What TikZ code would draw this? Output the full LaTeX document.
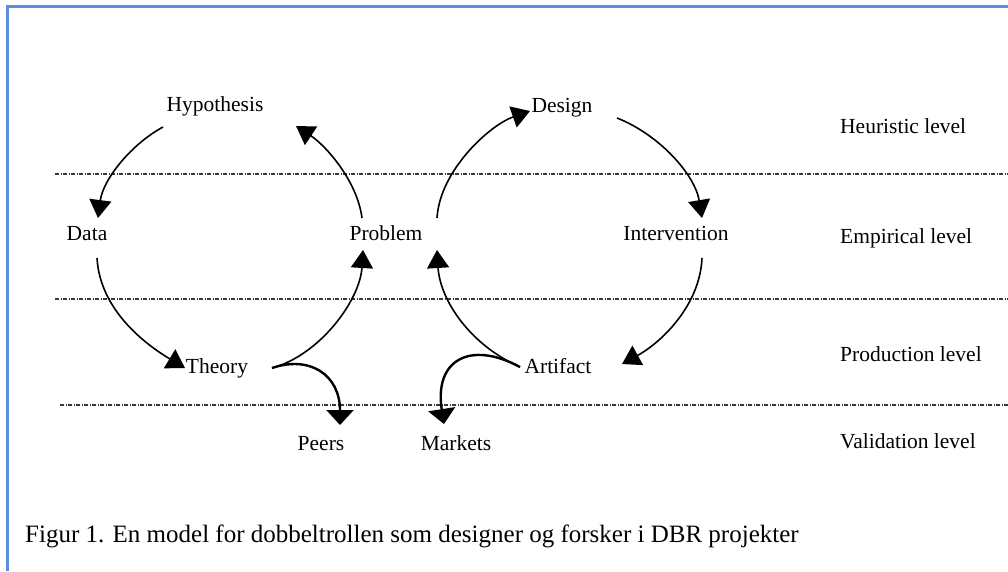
\documentclass[tikz,border=0pt]{standalone}
\usepackage{fontspec}
\setmainfont{Liberation Serif}
\usetikzlibrary{arrows.meta,calc}
\definecolor{framec}{HTML}{5B8ED6}
\begin{document}
\begin{tikzpicture}[x=1pt,y=-1pt,
  lbl/.style={anchor=base,inner sep=0pt,font=\fontsize{21.5}{24}\selectfont},
  lvl/.style={anchor=base west,inner sep=0pt,font=\fontsize{21.5}{24}\selectfont},
  arr/.style={line width=1.6pt,-{Triangle[length=18pt,width=22pt]}},
  outarr/.style={line width=2.4pt,-{Triangle[length=15pt,width=27pt]}},
  lvline/.style={line width=1.1pt,gray!45!black,dash pattern=on 4pt off 1.5pt on 1pt off 1.5pt}]
\useasboundingbox (0,0) rectangle (1008,571);
% frame
\draw[framec,line width=2.2pt] (7.5,571) -- (7.5,6.5) -- (1008,6.5);
% level lines
\draw[lvline] (55,174) -- (1008,174);
\draw[lvline] (55,299) -- (1008,299);
\draw[lvline] (60,405) -- (1008,405);
% nodes
\node[lbl] (hyp) at (215,111) {Hypothesis};
\node[lbl] (design) at (562,112) {Design};
\node[lbl] (data) at (87,240) {Data};
\node[lbl] (problem) at (386,240) {Problem};
\node[lbl] (interv) at (676,240) {Intervention};
\node[lbl] (theory) at (217,373) {Theory};
\node[lbl] (artifact) at (558,373) {Artifact};
\node[lbl] (peers) at (321,450) {Peers};
\node[lbl] (markets) at (456,450) {Markets};
\node[lvl] (heur) at (840,133) {Heuristic level};
\node[lvl] (emp) at (840,243) {Empirical level};
\node[lvl] (prod) at (840,361) {Production level};
\node[lvl] (valid) at (840,448) {Validation level};
% caption
\node[anchor=base west,inner sep=0pt,font=\fontsize{25}{28}\selectfont] (cap) at (25,542)
  {Figur 1. En model for dobbeltrollen som designer og forsker i DBR projekter};
% connectors
\draw[arr] ($(hyp.base)+(-52,16)$) .. controls +(-33,18) and +(5,-38) .. ($(data.base)+(11,-22)$);
\draw[arr] ($(data.base)+(10,18)$) .. controls +(3,52) and +(-40,-24) .. ($(theory.base)+(-32,-5)$);
\draw[arr] ($(theory.base)+(55,-5)$) .. controls +(48,-13) and +(-3,50) .. ($(problem.base)+(-23,10)$);
\draw[arr] ($(problem.base)+(-24,-22)$) .. controls +(-5,-38) and +(29,19) .. ($(hyp.base)+(81,15)$);
\draw[arr] ($(problem.base)+(51,-22)$) .. controls +(3,-48) and +(-40,14) .. ($(design.base)+(-32,-1)$);
\draw[arr] ($(design.base)+(55,6)$) .. controls +(43,17) and +(-7,-43) .. ($(interv.base)+(26,-22)$);
\draw[arr] ($(interv.base)+(26,18)$) .. controls +(-2,47) and +(40,-22) .. ($(artifact.base)+(64,-9)$);
\draw[arr] ($(artifact.base)+(-38,-6)$) .. controls +(-50,-22) and +(3,50) .. ($(problem.base)+(51,10)$);
\draw[outarr] ($(theory.base)+(55,-5)$) .. controls +(38,-13) and +(0,-50) .. ($(peers.base)+(19,-25)$);
\draw[outarr] ($(artifact.base)+(-38,-6)$) .. controls +(-50,-27) and +(-10,-64) .. ($(markets.base)+(-12,-26)$);
\end{tikzpicture}
\end{document}
